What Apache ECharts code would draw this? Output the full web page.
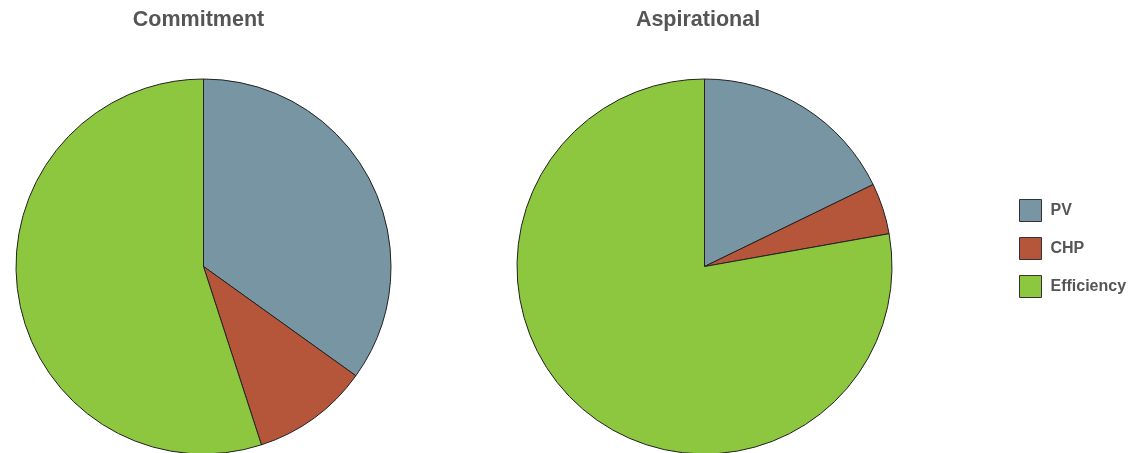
<!DOCTYPE html>
<html>
<head>
<meta charset="utf-8">
<script src="https://cdn.jsdelivr.net/npm/echarts@6/dist/echarts.min.js"></script>
<style>
  html, body { margin: 0; padding: 0; background: #fff; }
  #main { width: 1133px; height: 453px; }
</style>
</head>
<body>
<div id="main"></div>
<script>
const categories = ['PV', 'CHP', 'Efficiency']
const colors = ['#7895A3', '#B5553A', '#8DC63F']
const commitment = [34.9, 10.1, 55.0]
const aspirational = [17.8, 4.4, 77.8]

const chart = echarts.init(document.getElementById('main'))

const toData = values => values.map((v, i) => ({ name: categories[i], value: v }))

const pieSeries = (name, cx, values) => ({
    name: name,
    type: 'pie',
    center: [cx, 266.5],
    radius: 187.5,
    startAngle: 90,
    clockwise: true,
    label: { show: false },
    labelLine: { show: false },
    emphasis: { disabled: true },
    itemStyle: { borderColor: '#222', borderWidth: 1 },
    data: toData(values)
})

const titleStyle = { fontFamily: 'Liberation Sans', fontWeight: 'bold', fontSize: 21.5, color: '#555' }

chart.setOption({
    animation: false,
    color: colors,
    title: [
        { text: 'Commitment', left: 198.5, top: 9, padding: 0, textAlign: 'center', textStyle: titleStyle },
        { text: 'Aspirational', left: 698, top: 9, padding: 0, textAlign: 'center', textStyle: titleStyle }
    ],
    legend: {
        orient: 'vertical',
        left: 1019,
        top: 199,
        padding: 0,
        itemWidth: 22,
        itemHeight: 22,
        itemGap: 15,
        icon: 'rect',
        data: categories,
        itemStyle: { borderColor: '#333', borderWidth: 1 },
        textStyle: { fontFamily: 'Liberation Sans', fontWeight: 'bold', fontSize: 16, color: '#555', padding: [0, 0, 0, 4] }
    },
    series: [
        pieSeries('Commitment', 203.5, commitment),
        pieSeries('Aspirational', 704.5, aspirational)
    ]
})
</script>
</body>
</html>
